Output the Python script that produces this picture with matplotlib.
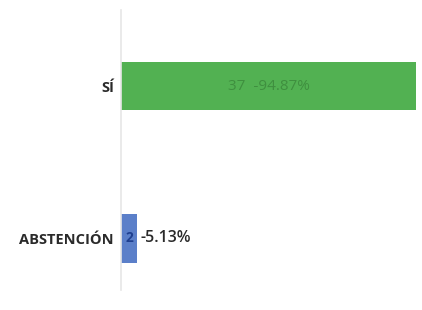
import matplotlib
matplotlib.use("Agg")
import matplotlib.pyplot as plt

# votos
categorias = ["ABSTENCIÓN", "SÍ"]
votos = [2, 37]
porcentajes = ["5.13%", "94.87%"]
colores = ["#5b7fc9", "#52b152"]

fig = plt.figure(figsize=(4.22, 3.10), dpi=100)
ax = fig.add_axes([121 / 422, 20 / 310, 297 / 422, 280 / 310])

pos = list(range(len(categorias)))
ax.barh(pos, votos, height=0.32, color=colores)

ax.set_xlim(0, 37.2)
ax.set_ylim(-0.34, 1.5)
ax.set_yticks(pos)
ax.set_yticklabels(categorias, fontsize=10.5, fontweight="bold",
                   family="Open Sans", color="#2a2a2a")
ax.tick_params(axis="y", length=0, pad=5)
ax.set_xticks([])

for s in ["top", "right", "bottom"]:
    ax.spines[s].set_visible(False)
ax.spines["left"].set_color("#e6e6e6")
ax.spines["left"].set_linewidth(1.2)

# etiquetas
ax.text(votos[1] / 2, pos[1], f"{votos[1]}  -{porcentajes[1]}", ha="center", va="center",
        fontsize=11, family="Open Sans", color="#3f8f3f")
ax.text(votos[0] / 2, pos[0], str(votos[0]), ha="center", va="center",
        fontsize=10, family="Open Sans", fontweight="bold", color="#1f3f8f")
ax.text(votos[0] + 0.5, pos[0], f"-{porcentajes[0]}", ha="left", va="center",
        fontsize=11.5, family="Open Sans", fontweight="semibold", color="#2a2a2a")

fig.savefig("out.png", dpi=100)
